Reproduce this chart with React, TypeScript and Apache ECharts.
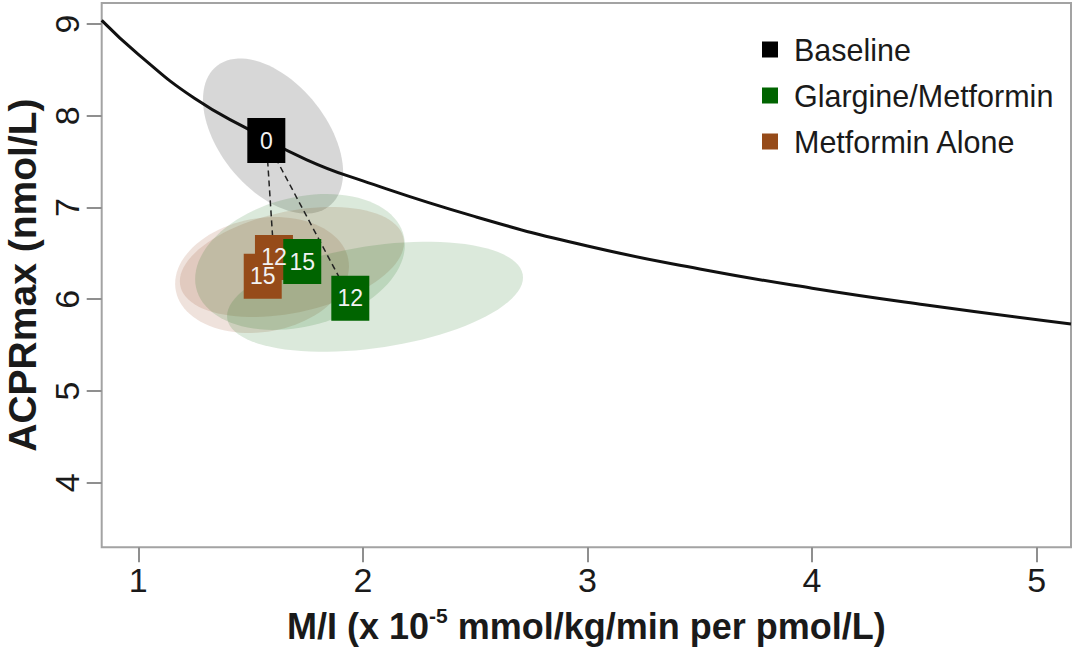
import React, { useEffect, useRef } from "react";
import * as echarts from "echarts";

// Axis extents and tick positions
const xRange = [0.837, 5.153];
const yRange = [3.296, 9.229];
const xTicks = [1, 2, 3, 4, 5];
const yTicks = [4, 5, 6, 7, 8, 9];

// Hyperbolic reference curve (M/I vs ACPRmax)
const curveX = [0.837, 1.0, 1.25, 1.5, 1.75, 2.0, 2.5, 3.0, 3.5, 4.0, 4.5, 5.153];
const curveY = [9.04, 8.67, 8.19, 7.84, 7.52, 7.29, 6.9, 6.58, 6.33, 6.12, 5.94, 5.73];

// Group means: [M/I, ACPRmax], labelled by month
const baselinePoint = [1.57, 7.73];
const glargineMonths = ["12", "15"];
const glargineX = [1.944, 1.73];
const glargineY = [6.01, 6.41];
const metforminMonths = ["12", "15"];
const metforminX = [1.604, 1.554];
const metforminY = [6.455, 6.25];

// Confidence ellipses: [centre x, centre y, half-width x, half-height y, correlation]
const ellipseParams = [
  [1.6, 7.779, 0.312, 0.845, -0.47],
  [1.551, 6.264, 0.387, 0.632, 0.15],
  [1.684, 6.406, 0.499, 0.6, 0.35],
  [1.72, 6.406, 0.467, 0.741, 0.25],
  [2.054, 6.027, 0.659, 0.6, 0.35],
];
const ellipseFills = [
  "rgba(140,140,140,0.35)",
  "rgba(160,82,45,0.17)",
  "rgba(160,82,45,0.17)",
  "rgba(0,100,0,0.14)",
  "rgba(0,100,0,0.14)",
];

const groupNames = ["Baseline", "Glargine/Metformin", "Metformin Alone"];
const groupColors = ["#000000", "#006400", "#964B19"];

const FONT = "'Liberation Sans', Arial, Helvetica, sans-serif";

export default function App() {
  const ref = useRef<HTMLDivElement>(null);

  useEffect(() => {
    if (!ref.current) return;
    const chart = echarts.init(ref.current, undefined, { renderer: "svg" });

    const squareLabel = {
      show: true,
      position: "inside",
      formatter: "{b}",
      color: "#f2f2f2",
      fontSize: 23,
      lineHeight: 17,
      fontFamily: FONT,
    };

    const option: any = {
      animation: false,
      backgroundColor: "#ffffff",
      textStyle: { fontFamily: FONT },
      grid: {
        left: 101.7,
        right: 3,
        top: 3,
        bottom: 106.7,
        show: true,
        borderColor: "#a3a3a3",
        borderWidth: 2,
        outerBoundsMode: "none",
      },
      legend: {
        orient: "vertical",
        left: 757,
        top: 29,
        itemWidth: 16,
        itemHeight: 16,
        itemGap: 15,
        icon: "rect",
        data: groupNames,
        selectedMode: false,
        textStyle: {
          fontSize: 30.5,
          color: "#1a1a1a",
          fontFamily: FONT,
          padding: [0, 0, 0, 11],
        },
      },
      xAxis: {
        type: "value",
        min: xRange[0],
        max: xRange[1],
        axisLine: { show: false },
        splitLine: { show: false },
        axisTick: {
          show: true,
          length: 15,
          customValues: xTicks,
          lineStyle: { color: "#8f8f8f", width: 2 },
        },
        axisLabel: {
          customValues: xTicks,
          fontSize: 34,
          color: "#1a1a1a",
          margin: 16,
          fontFamily: FONT,
        },
        name: "M/I (x 10{sup|-5} mmol/kg/min per pmol/L)",
        nameLocation: "middle",
        nameGap: 58,
        nameTextStyle: {
          fontSize: 36,
          fontWeight: "bold",
          color: "#1a1a1a",
          fontFamily: FONT,
          lineHeight: 42,
          rich: {
            sup: {
              fontSize: 21,
              fontWeight: "bold",
              color: "#1a1a1a",
              fontFamily: FONT,
              verticalAlign: "top",
              lineHeight: 21,
            },
          },
        },
      },
      yAxis: {
        type: "value",
        min: yRange[0],
        max: yRange[1],
        axisLine: { show: false },
        splitLine: { show: false },
        axisTick: {
          show: true,
          length: 15,
          customValues: yTicks,
          lineStyle: { color: "#8f8f8f", width: 2 },
        },
        axisLabel: {
          customValues: yTicks,
          rotate: 90,
          fontSize: 34,
          color: "#1a1a1a",
          margin: 18,
          fontFamily: FONT,
        },
        name: "ACPRmax (nmol/L)",
        nameLocation: "middle",
        nameGap: 56,
        nameTextStyle: {
          fontSize: 39,
          fontWeight: "bold",
          color: "#1a1a1a",
          fontFamily: FONT,
        },
      },
      series: [
        {
          type: "custom",
          name: "ellipses",
          coordinateSystem: "cartesian2d",
          z: 1,
          silent: true,
          encode: { x: 0, y: 1 },
          data: ellipseParams,
          renderItem: (params: any, api: any) => {
            const cx = api.value(0);
            const cy = api.value(1);
            const sx = api.value(2);
            const sy = api.value(3);
            const rho = api.value(4);
            const k = Math.sqrt(1 - rho * rho);
            const pts: number[][] = [];
            const n = 96;
            for (let i = 0; i < n; i++) {
              const t = (i / n) * Math.PI * 2;
              pts.push(
                api.coord([
                  cx + sx * Math.cos(t),
                  cy + sy * (rho * Math.cos(t) + k * Math.sin(t)),
                ])
              );
            }
            return {
              type: "polygon",
              shape: { points: pts },
              style: { fill: ellipseFills[params.dataIndex], stroke: "none" },
            };
          },
        },
        {
          type: "line",
          name: "curve",
          z: 2,
          smooth: true,
          showSymbol: false,
          silent: true,
          clip: true,
          lineStyle: { color: "#111111", width: 3 },
          data: curveX.map((x, i) => [x, curveY[i]]),
        },
        {
          type: "line",
          name: "toMetformin",
          z: 3,
          showSymbol: false,
          silent: true,
          lineStyle: { color: "#222222", width: 1.5, type: [6, 4] },
          data: [baselinePoint, [metforminX[0], metforminY[0]]],
        },
        {
          type: "line",
          name: "toGlargine",
          z: 3,
          showSymbol: false,
          silent: true,
          lineStyle: { color: "#222222", width: 1.5, type: [6, 4] },
          data: [baselinePoint, [glargineX[0], glargineY[0]]],
        },
        {
          type: "scatter",
          name: groupNames[0],
          z: 4,
          symbol: "rect",
          symbolSize: [38, 45],
          itemStyle: { color: groupColors[0], opacity: 1 },
          label: squareLabel,
          data: [{ name: "0", value: baselinePoint }],
        },
        {
          type: "scatter",
          name: groupNames[2],
          z: 4,
          symbol: "rect",
          symbolSize: [38, 45],
          itemStyle: { color: groupColors[2], opacity: 1 },
          label: squareLabel,
          data: metforminMonths.map((m, i) => ({
            name: m,
            value: [metforminX[i], metforminY[i]],
          })),
        },
        {
          type: "scatter",
          name: groupNames[1],
          z: 4,
          symbol: "rect",
          symbolSize: [38, 45],
          itemStyle: { color: groupColors[1], opacity: 1 },
          label: squareLabel,
          data: glargineMonths.map((m, i) => ({
            name: m,
            value: [glargineX[i], glargineY[i]],
          })),
        },
      ],
    };

    chart.setOption(option);
    return () => chart.dispose();
  }, []);

  return (
    <div
      ref={ref}
      style={{ position: "absolute", left: 0, top: 0, width: 1074, height: 654 }}
    />
  );
}
